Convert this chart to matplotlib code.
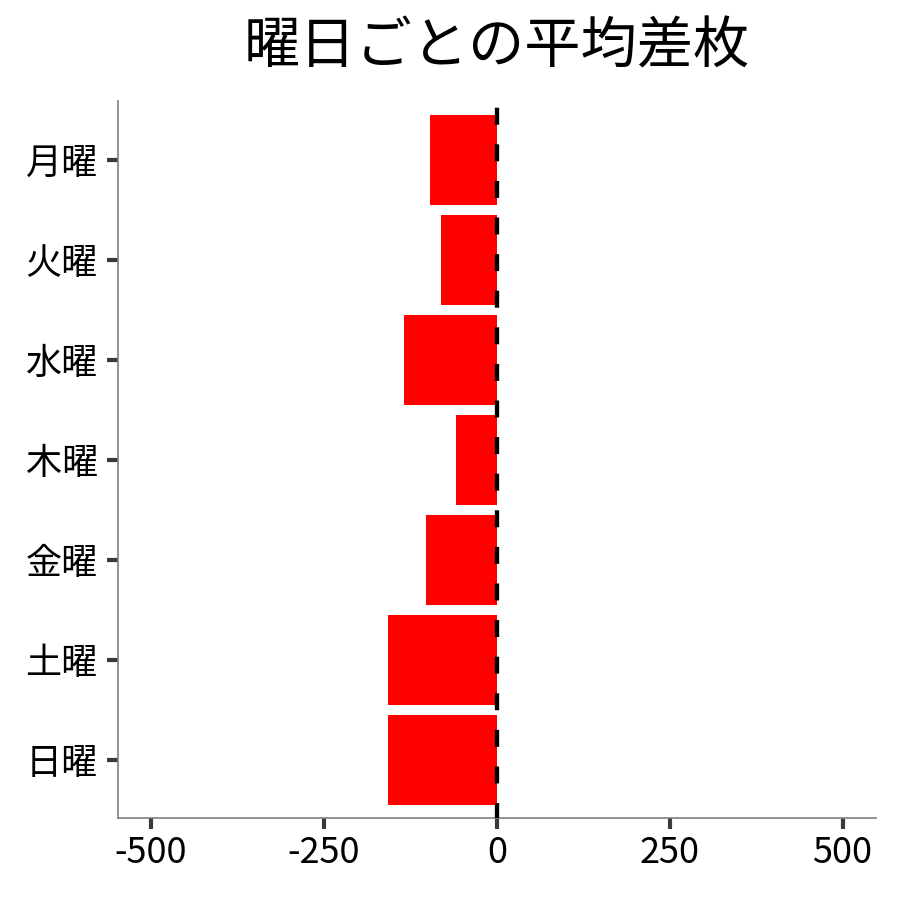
import matplotlib
matplotlib.use("Agg")
import matplotlib.pyplot as plt

plt.rcParams['font.family'] = ['Noto Sans CJK JP', 'DejaVu Sans']

days = ['月曜', '火曜', '水曜', '木曜', '金曜', '土曜', '日曜']
avg_diff = [-96, -81, -134, -59, -102, -158, -157]
xticks = [-500, -250, 0, 250, 500]
xticklabels = ['-500', '-250', '0', '250', '500']

fig = plt.figure(figsize=(9, 9), dpi=100)
ax = fig.add_axes([0.131, 0.091, 0.842, 0.797])

ypos = list(range(len(days)))
ax.barh(ypos, avg_diff, height=0.9, color='#ff0000', zorder=2)
ax.axvline(0, color='black', linewidth=3.1, linestyle=(0.48, (3.95, 4.55)), zorder=3, clip_on=False)

ax.set_xlim(-548, 548)
ax.set_ylim(6.58, -0.59)
ax.set_yticks(ypos)
ax.set_yticklabels(days, fontsize=26)
ax.set_xticks(xticks)
ax.set_xticklabels(xticklabels, fontsize=26)

for s in ['top', 'right']:
    ax.spines[s].set_visible(False)
for s in ['left', 'bottom']:
    ax.spines[s].set_color('#7f7f7f')
    ax.spines[s].set_linewidth(1.2)

ax.tick_params(axis='both', length=8, width=3, color='#3a3a3a')
ax.tick_params(axis='y', pad=6.5)
ax.tick_params(axis='x', pad=4)

ax.set_title('曜日ごとの平均差枚', fontsize=40.5, pad=27)

fig.savefig('out.png', dpi=100, facecolor='white')
